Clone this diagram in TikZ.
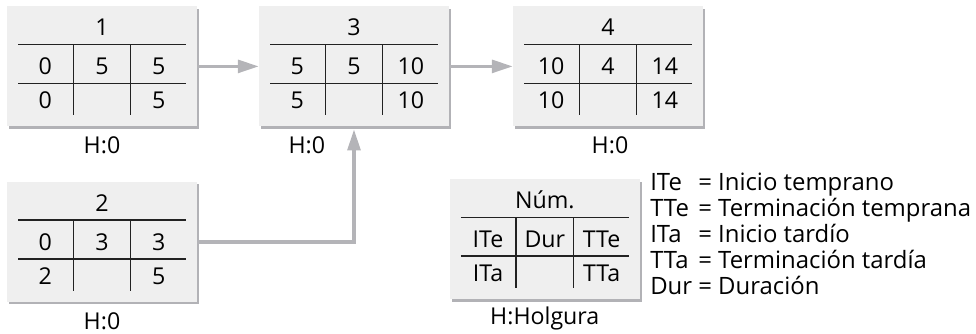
\documentclass[tikz,border=0pt]{standalone}
\usepackage{fontspec}
\setmainfont{Open Sans}
\usetikzlibrary{arrows.meta, positioning, calc, shadows}

\definecolor{boxface}{HTML}{EFEFEF}
\definecolor{boxshadow}{HTML}{B2B2B6}
\definecolor{linkgray}{HTML}{B4B4B8}
\definecolor{rulegray}{HTML}{222222}

\begin{document}
\begin{tikzpicture}[
    font=\fontsize{16.5pt}{19pt}\selectfont,
    every node/.style={inner sep=0pt},
    actbox/.style={fill=boxface, minimum width=4.75cm, minimum height=3cm,
        drop shadow={shadow xshift=0.06cm, shadow yshift=-0.06cm, fill=boxshadow, opacity=1}},
    rule/.style={draw=rulegray, line width=0.75pt},
    cell/.style={anchor=center},
    slack/.style={anchor=center},
    flow/.style={-{Triangle[length=0.52cm, width=0.32cm]}, line width=2.3pt, color=linkgray}
]
\useasboundingbox (0,0) rectangle (24.4,-8.35);

% =========================================================
% Activity boxes (number / early row / late row / slack)
% =========================================================
\foreach \id/\x/\y/\num/\es/\dur/\ef/\ls/\lf/\h/\hx/\lw in {
    n1/2.55/-1.66/1/0/5/5/0/5/H:0/0/0.75pt,
    n3/8.85/-1.66/3/5/5/10/5/10/H:0/-1.18/0.75pt,
    n4/15.2/-1.66/4/10/4/14/10/14/H:0/0.05/0.75pt,
    n2/2.55/-6.05/2/0/3/3/2/5/H:0/0/1.4pt,
    key/13.62/-5.98/Núm./ITe/Dur/TTe/ITa/TTa/H:Holgura/0/1.4pt} {
    \node[actbox] (\id) at (\x,\y) {};
    \node[cell] (\id-num) at ($(\id.center)+(0,0.975)$) {\num};
    % grid lines
    \draw[rule] ($(\id.center)+(-2.1,0.55)$) -- ($(\id.center)+(2.1,0.55)$);
    \draw[rule, line width=\lw] ($(\id.center)+(-2.1,-0.425)$) -- ($(\id.center)+(2.1,-0.425)$);
    \draw[rule] ($(\id.center)+(-0.72,0.55)$) -- ($(\id.center)+(-0.72,-1.22)$);
    \draw[rule] ($(\id.center)+(0.72,0.55)$) -- ($(\id.center)+(0.72,-1.22)$);
    % cell values
    \node[cell] (\id-es)  at ($(\id.center)+(-1.42,0)$) {\es};
    \node[cell] (\id-dur) at ($(\id.center)+(0,0)$)     {\dur};
    \node[cell] (\id-ef)  at ($(\id.center)+(1.42,0)$)  {\ef};
    \node[cell] (\id-ls)  at ($(\id.center)+(-1.42,-0.85)$) {\ls};
    \node[cell] (\id-lf)  at ($(\id.center)+(1.42,-0.85)$)  {\lf};
    \node[slack] (\id-h) at ($(\id.center)+(\hx,-1.97)$) {\h};
}

% Links
\draw[flow] (n1.east) -- (n3.west);
\draw[flow] (n3.east) -- (n4.west);
\draw[flow, shorten >=0.07cm] (n2.east) -| (n3.south);

% Legend
\node[anchor=west, align=left, font=\fontsize{17pt}{18.2pt}\selectfont] (legend) at (16.25,-5.93) {%
    \begin{tabular}{@{}l@{\ }l@{}}
    ITe & = Inicio temprano\\
    TTe & = Terminación temprana\\
    ITa & = Inicio tardío\\
    TTa & = Terminación tardía\\
    Dur & = Duración
    \end{tabular}};

\end{tikzpicture}
\end{document}
